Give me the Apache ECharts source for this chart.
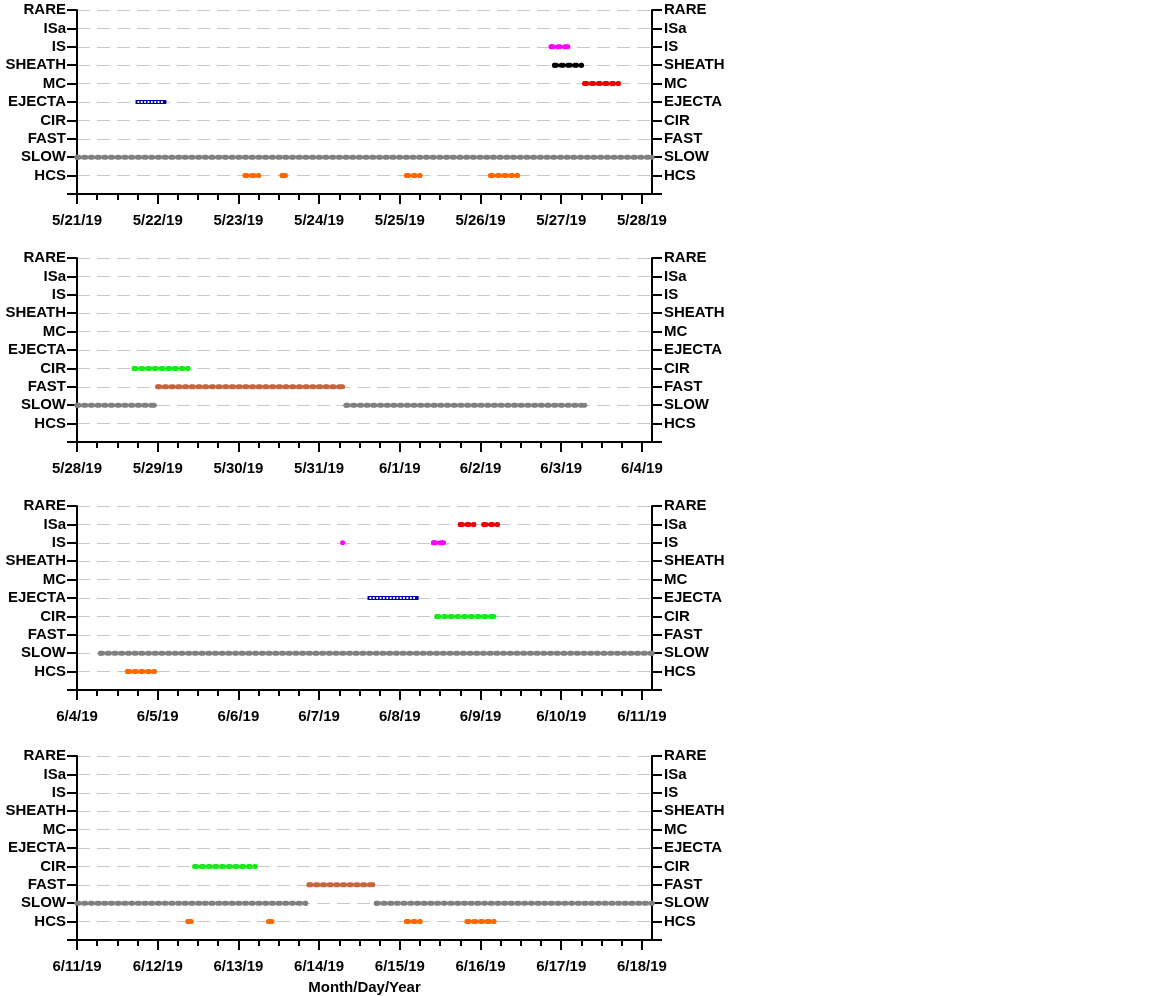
<!DOCTYPE html>
<html><head><meta charset="utf-8">
<script src="https://cdn.jsdelivr.net/npm/echarts@6/dist/echarts.min.js"></script>
<style>html,body{margin:0;padding:0;background:#fff}#c{width:1152px;height:996px}</style>
</head><body><div id="c"></div>
<script>
// y categories, bottom to top (value -1 is the empty slot at the x axis)
const categories = ['HCS','SLOW','FAST','CIR','EJECTA','MC','SHEATH','IS','ISa','RARE'];
// start day of each of the four weekly panels
const panelStarts = ['2019-05-21','2019-05-28','2019-06-04','2019-06-11'];
const xTitle = 'Month/Day/Year';

// classification intervals [start, end] (UTC)
const SLOW = [
  ['2019-05-21 00:00','2019-05-28 03:00'],
  ['2019-05-28 00:00','2019-05-28 23:00'],
  ['2019-05-31 08:00','2019-06-03 07:00'],
  ['2019-06-04 07:00','2019-06-11 03:00'],
  ['2019-06-11 00:00','2019-06-13 20:00'],
  ['2019-06-14 17:00','2019-06-18 03:00']
];
const HCS = [
  ['2019-05-23 02:00','2019-05-23 06:00'],
  ['2019-05-23 13:00','2019-05-23 14:00'],
  ['2019-05-25 02:00','2019-05-25 06:00'],
  ['2019-05-26 03:00','2019-05-26 11:00'],
  ['2019-06-04 15:00','2019-06-04 23:00'],
  ['2019-06-12 09:00','2019-06-12 10:00'],
  ['2019-06-13 09:00','2019-06-13 10:00'],
  ['2019-06-15 02:00','2019-06-15 06:00'],
  ['2019-06-15 20:00','2019-06-16 04:00']
];
const FAST = [
  ['2019-05-29 00:00','2019-05-31 07:00'],
  ['2019-06-13 21:00','2019-06-14 16:00']
];
const CIR = [
  ['2019-05-28 17:00','2019-05-29 09:00'],
  ['2019-06-08 11:00','2019-06-09 04:00'],
  ['2019-06-12 11:00','2019-06-13 05:00']
];
const EJECTA = [
  ['2019-05-21 18:00','2019-05-22 02:00'],
  ['2019-06-07 15:00','2019-06-08 05:00']
];
const MC = [
  ['2019-05-27 07:00','2019-05-27 17:00']
];
const SHEATH = [
  ['2019-05-26 22:00','2019-05-27 06:00']
];
const IS = [
  ['2019-05-26 21:00','2019-05-27 02:00'],
  ['2019-06-07 07:00','2019-06-07 07:00'],
  ['2019-06-08 10:00','2019-06-08 13:00']
];
const ISa = [
  ['2019-06-08 18:00','2019-06-08 22:00'],
  ['2019-06-09 01:00','2019-06-09 05:00']
];
const RARE = [];

const classData = {SLOW, HCS, FAST, CIR, EJECTA, MC, SHEATH, IS, ISa, RARE};
const classColors = {
  SLOW:'#808080', HCS:'#ff6600', FAST:'#c8643c', CIR:'#11ee11',
  EJECTA:'#0000a8', MC:'#ee0000', SHEATH:'#000000', IS:'#ff00ff', ISa:'#ee0000', RARE:'#000000'
};

const HOUR = 3600000, DAY = 24*HOUR;
const T = s => Date.parse(s.replace(' ','T') + ':00Z');
const FONT = '"Liberation Sans", Arial, sans-serif';
const fmtDate = v => { const d = new Date(v); return (d.getUTCMonth()+1)+'/'+d.getUTCDate()+'/'+String(d.getUTCFullYear()).slice(2); };

const tops = [10, 258, 506, 756];
const grids = [], xAxes = [], yAxes = [], series = [];
const starts = panelStarts.map(s => T(s + ' 00:00'));

starts.forEach((s, i) => {
  const max = s + 7*DAY + 3*HOUR;
  const days = [], quarters = [];
  for (let v = s; v <= max; v += DAY) days.push(v);
  for (let v = s; v <= max; v += 6*HOUR) quarters.push(v);
  grids.push({left:77, width:575, top:tops[i], height:184});
  const lbl = {fontFamily:FONT, fontWeight:'bold', fontSize:15, color:'#000'};
  xAxes.push({
    type:'value', gridIndex:i, position:'bottom', min:s, max:max,
    axisLine:{onZero:false, lineStyle:{color:'#000', width:2}},
    axisTick:{customValues:days, length:10, lineStyle:{color:'#000', width:2}},
    axisLabel:Object.assign({customValues:days, formatter:fmtDate, margin:19}, lbl),
    splitLine:{show:false},
    name: i === 3 ? xTitle : '', nameLocation:'middle', nameGap:40,
    nameTextStyle: lbl
  });
  xAxes.push({
    type:'value', gridIndex:i, position:'bottom', min:s, max:max,
    axisLine:{show:false, onZero:false},
    axisTick:{customValues:quarters, length:6, lineStyle:{color:'#000', width:2}},
    axisLabel:{show:false}, splitLine:{show:false}
  });
  const yBase = {
    type:'value', gridIndex:i, min:-1, max:9, interval:1,
    axisLine:{show:true, onZero:false, lineStyle:{color:'#000', width:2}},
    axisTick:{show:true, length:10, lineStyle:{color:'#000', width:2}}
  };
  yAxes.push(Object.assign({}, yBase, {
    position:'left',
    axisLabel:Object.assign({formatter: v => categories[v] || '', margin:11}, lbl),
    splitLine:{show:true, lineStyle:{type:[13,7], color:'#c8c8c8', width:1}}
  }));
  yAxes.push(Object.assign({}, yBase, {
    position:'right',
    axisLabel:Object.assign({formatter: v => categories[v] || '', margin:12}, lbl),
    splitLine:{show:false}
  }));
});

Object.keys(classData).forEach(name => {
  const yi = categories.indexOf(name);
  const color = classColors[name];
  classData[name].forEach(([a, b]) => {
    const t0 = T(a), t1 = T(b);
    let p = 0;
    for (let k = 0; k < starts.length; k++) if (t0 >= starts[k]) p = k;
    const data = t0 === t1 ? [[t0, yi]] : [[t0, yi], [t1, yi]];
    const base = {type:'line', xAxisIndex:2*p, yAxisIndex:2*p, data, silent:true, animation:false, z:3};
    if (name === 'EJECTA') {
      series.push(Object.assign({}, base, {
        symbol:'rect', symbolSize:4, showSymbol:true, itemStyle:{color},
        lineStyle:{color, width:4, cap:'butt'}
      }));
      series.push(Object.assign({}, base, {
        symbol:'none', z:4,
        lineStyle:{color:'#ffffff', width:1.8, type:[1.8, 1.56], cap:'butt'}
      }));
    } else {
      series.push(Object.assign({}, base, {
        symbol:'circle', symbolSize:5, showSymbol:true, itemStyle:{color},
        lineStyle:{color, width:5, type:[2.1, 4.6], cap:'round'}
      }));
    }
  });
});

const chart = echarts.init(document.getElementById('c'), null, {renderer:'canvas'});
chart.setOption({
  animation:false, backgroundColor:'#ffffff',
  grid:grids, xAxis:xAxes, yAxis:yAxes, series
});
</script>
</body></html>
